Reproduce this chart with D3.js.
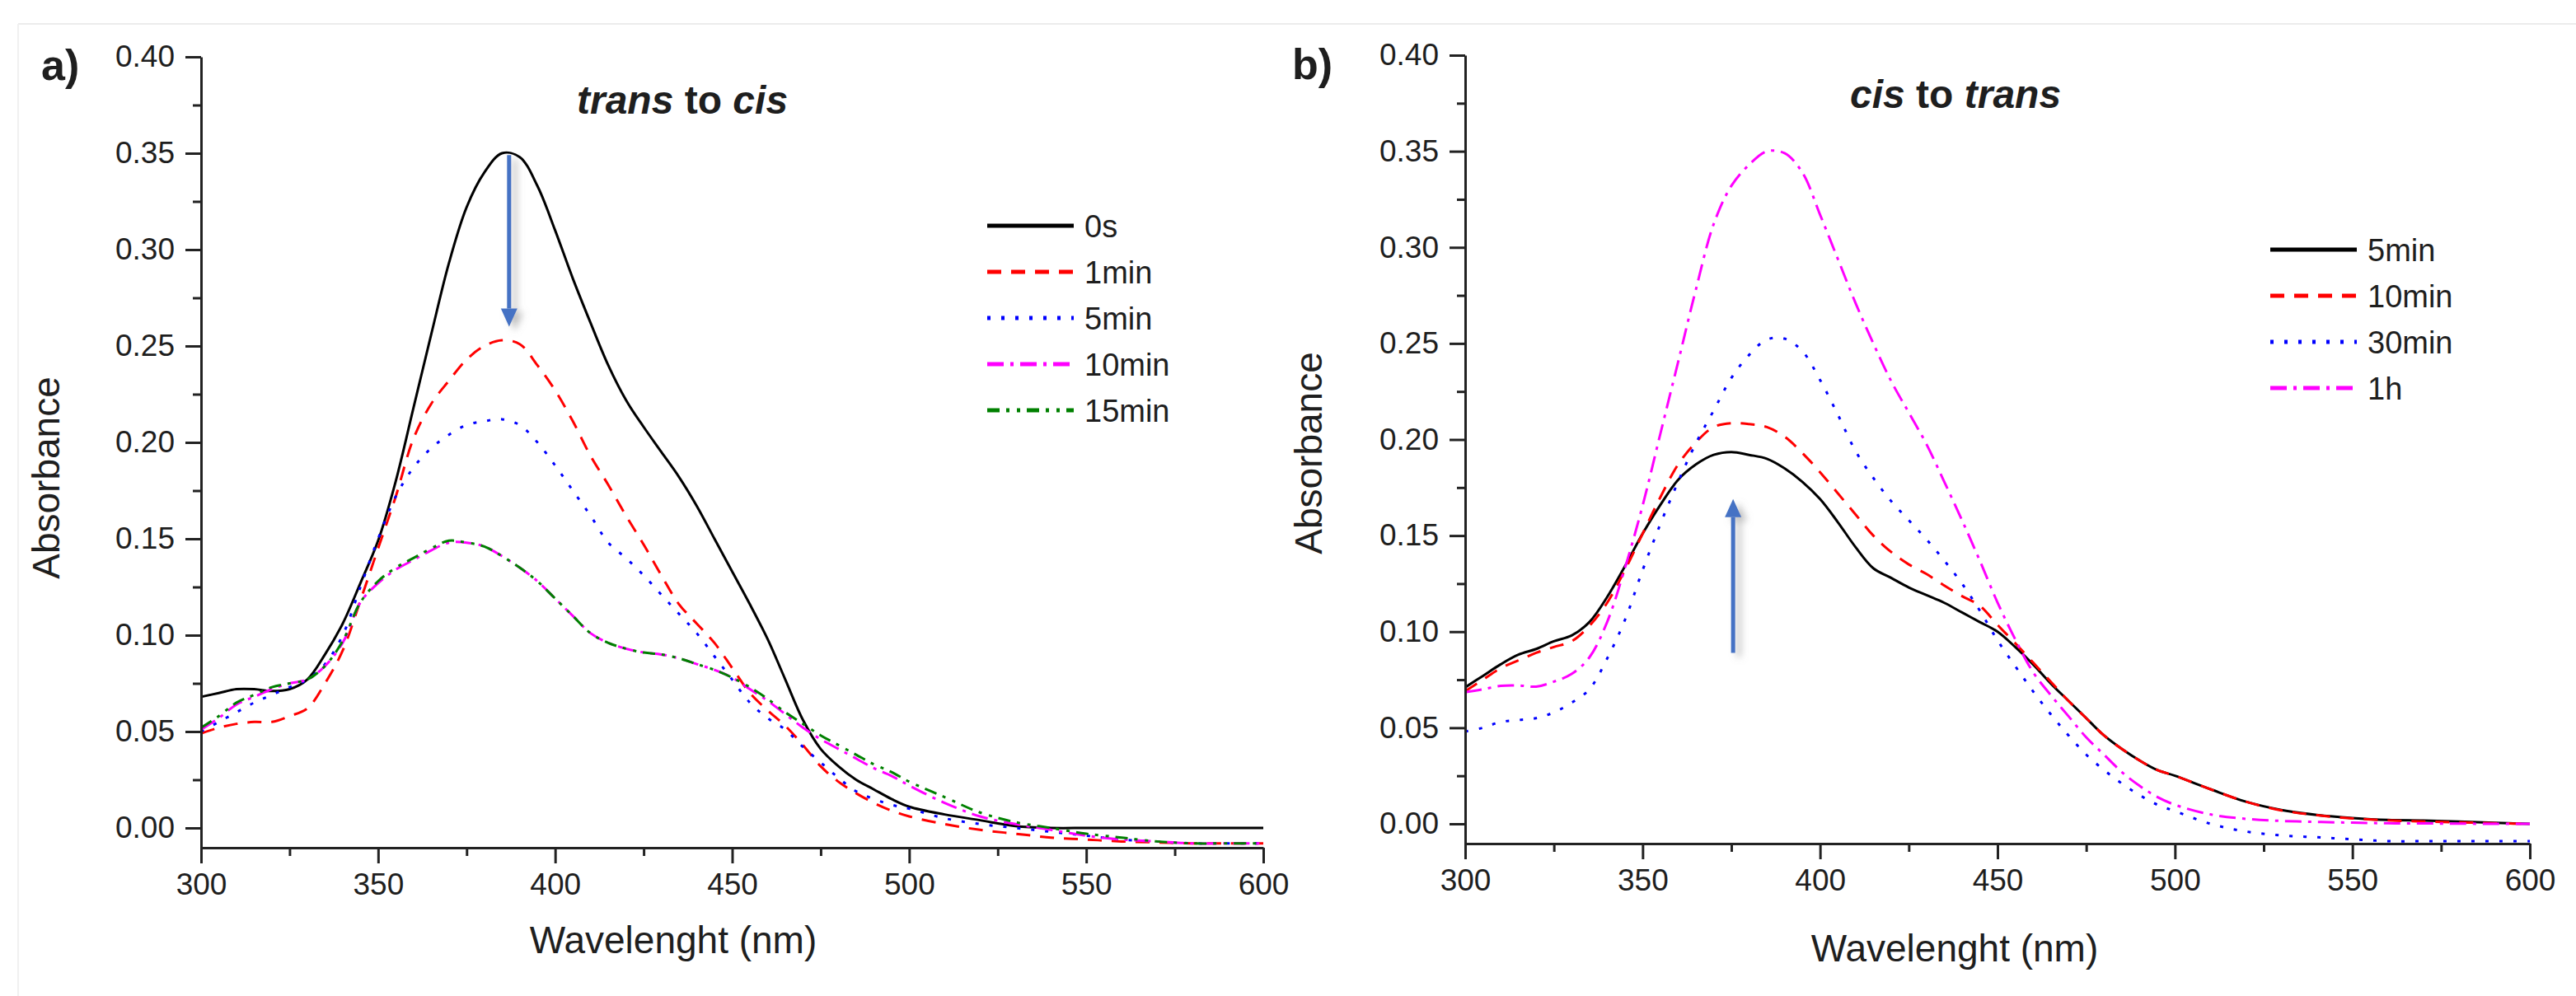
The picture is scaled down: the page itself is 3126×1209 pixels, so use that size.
<!DOCTYPE html>
<html>
<head>
<meta charset="utf-8">
<script src="https://cdnjs.cloudflare.com/ajax/libs/d3/7.8.5/d3.min.js"></script>
<style>
body { margin: 0; background: #fff; }
svg text { font-family: "Liberation Sans", Arial, sans-serif; fill: #1e1e1e; }
.axis path, .axis line { stroke: #222; stroke-width: 3; }
.curve { fill: none; stroke-width: 3; stroke-linejoin: round; }
</style>
</head>
<body>
<svg class="main" width="3126" height="1209"></svg>
<script>
// wavelength grid (nm), shared by every series
var wavelength = [300,305,310,315,320,325,330,335,340,345,350,355,360,365,370,375,380,385,390,395,400,
                  405,410,415,420,425,430,435,440,445,450,455,460,465,470,475,480,485,490,495,500,
                  510,520,530,540,550,560,570,580,590,600];

// panel a) trans to cis
var a_0s    = [0.068,0.070,0.072,0.072,0.071,0.072,0.077,0.090,0.106,0.127,0.149,0.180,0.218,0.256,0.293,0.322,0.340,0.350,0.348,0.333,0.310,
               0.285,0.262,0.240,0.222,0.208,0.195,0.182,0.167,0.150,0.133,0.116,0.098,0.077,0.056,0.041,0.032,0.025,0.020,0.015,0.011,
               0.007,0.004,0.001,0.000,0.000,0.000,0.000,0.000,0.000,0.000];
var a_1min  = [0.049,0.052,0.054,0.055,0.055,0.058,0.062,0.075,0.092,0.118,0.145,0.172,0.202,0.220,0.232,0.243,0.250,0.253,0.251,0.240,0.227,
               0.211,0.193,0.178,0.162,0.147,0.131,0.116,0.106,0.096,0.083,0.070,0.061,0.053,0.043,0.032,0.024,0.018,0.013,0.009,0.006,
               0.002,-0.001,-0.003,-0.005,-0.006,-0.007,-0.0075,-0.008,-0.008,-0.008];
var a_5min  = [0.050,0.055,0.060,0.065,0.069,0.073,0.077,0.085,0.100,0.125,0.150,0.172,0.187,0.197,0.204,0.209,0.211,0.212,0.209,0.200,0.188,
               0.175,0.162,0.148,0.140,0.131,0.121,0.111,0.101,0.089,0.077,0.065,0.057,0.051,0.042,0.034,0.026,0.019,0.015,0.012,0.010,
               0.005,0.002,0.000,-0.002,-0.004,-0.006,-0.007,-0.008,-0.008,-0.008];
var a_10min = [0.051,0.057,0.064,0.068,0.072,0.075,0.077,0.084,0.096,0.117,0.127,0.134,0.139,0.144,0.148,0.148,0.146,0.141,0.135,0.128,0.119,
               0.110,0.101,0.096,0.093,0.091,0.090,0.088,0.085,0.082,0.078,0.072,0.066,0.059,0.052,0.046,0.041,0.036,0.031,0.027,0.022,
               0.013,0.006,0.002,-0.001,-0.004,-0.006,-0.007,-0.008,-0.008,-0.008];
var a_15min = [0.052,0.058,0.065,0.069,0.073,0.075,0.077,0.084,0.097,0.117,0.128,0.135,0.140,0.145,0.149,0.148,0.146,0.141,0.135,0.128,0.119,
               0.110,0.101,0.096,0.093,0.091,0.090,0.088,0.085,0.082,0.078,0.073,0.067,0.060,0.054,0.048,0.043,0.038,0.033,0.029,0.024,
               0.016,0.008,0.003,0.000,-0.003,-0.005,-0.007,-0.008,-0.008,-0.008];

// panel b) cis to trans
var b_5min  = [0.071,0.077,0.083,0.088,0.091,0.095,0.098,0.105,0.118,0.134,0.151,0.166,0.179,0.187,0.192,0.1935,0.192,0.190,0.185,0.178,0.169,
               0.157,0.144,0.133,0.128,0.123,0.119,0.115,0.110,0.105,0.100,0.092,0.083,0.073,0.064,0.055,0.046,0.039,0.033,0.028,0.025,
               0.018,0.0115,0.0072,0.0046,0.003,0.002,0.0017,0.0012,0.0005,0.0];
var b_10min = [0.069,0.075,0.081,0.085,0.089,0.092,0.095,0.103,0.115,0.132,0.151,0.170,0.187,0.1985,0.2065,0.2085,0.208,0.2065,0.2015,0.193,0.183,
               0.172,0.161,0.150,0.1415,0.135,0.130,0.124,0.1185,0.1135,0.1035,0.094,0.084,0.074,0.064,0.055,0.046,0.039,0.033,0.028,0.025,
               0.018,0.0115,0.007,0.0045,0.0028,0.0018,0.0012,0.0008,0.0003,0.0];
var b_30min = [0.048,0.050,0.053,0.054,0.055,0.058,0.063,0.070,0.086,0.106,0.132,0.156,0.178,0.198,0.215,0.232,0.244,0.252,0.2525,0.246,0.231,
               0.213,0.194,0.180,0.168,0.158,0.148,0.137,0.125,0.111,0.0955,0.082,0.069,0.057,0.046,0.036,0.028,0.021,0.015,0.010,0.0066,
               0.0,-0.004,-0.006,-0.007,-0.008,-0.009,-0.009,-0.009,-0.009,-0.009];
var b_1h    = [0.0685,0.070,0.0718,0.072,0.0714,0.074,0.078,0.0866,0.105,0.133,0.1656,0.203,0.2403,0.278,0.312,0.332,0.343,0.350,0.349,0.339,0.317,
               0.294,0.271,0.250,0.2305,0.214,0.1975,0.178,0.158,0.137,0.1152,0.096,0.079,0.067,0.056,0.045,0.036,0.027,0.0198,0.014,0.0099,
               0.0049,0.0026,0.0015,0.001,0.0006,0.0003,0.0002,0.0001,0.0,0.0];

var a_names = ["0s", "1min", "5min", "10min", "15min"];
var b_names = ["5min", "10min", "30min", "1h"];

var xMajor = [300, 350, 400, 450, 500, 550, 600];
var xMinor = [325, 375, 425, 475, 525, 575];
var yMajor = [0.00, 0.05, 0.10, 0.15, 0.20, 0.25, 0.30, 0.35, 0.40];
var yMinor = [0.025, 0.075, 0.125, 0.175, 0.225, 0.275, 0.325, 0.375];

var styles = {
    black:   { color: "#000000", dash: null },
    red:     { color: "#ff0000", dash: "17,12" },
    blue:    { color: "#0000ff", dash: "4,13" },
    magenta: { color: "#ff00ff", dash: "20,8,4,8" },
    green:   { color: "#008000", dash: "15,8,4,9,4,8" }
};

var svg = d3.select("svg.main");

// drop shadow for the arrows
var defs = svg.append("defs");
var f = defs.append("filter").attr("id", "shadow")
    .attr("x", "-200%").attr("y", "-20%").attr("width", "500%").attr("height", "140%");
f.append("feDropShadow").attr("dx", 7).attr("dy", 5).attr("stdDeviation", 4)
    .attr("flood-color", "#888").attr("flood-opacity", 0.55);

// faint frame of the scanned figure
svg.append("line").attr("x1", 22).attr("y1", 29).attr("x2", 3126).attr("y2", 29)
    .attr("stroke", "#ececec").attr("stroke-width", 2);
svg.append("line").attr("x1", 22).attr("y1", 29).attr("x2", 22).attr("y2", 1209)
    .attr("stroke", "#f0f0f0").attr("stroke-width", 2);

drawPanel({
    left: 244, right: 1533, top: 69, zero: 1005, bottom: 1029,
    letter: "a)", letterX: 50, letterY: 97,
    title: [["trans", true], [" to ", false], ["cis", true]], titleX: 700, titleY: 138,
    ylabX: 72, ylabY: 580, xlabX: 817, xlabY: 1157,
    series: [a_0s, a_1min, a_5min, a_10min, a_15min], names: a_names,
    look: ["black", "red", "blue", "magenta", "green"],
    legX: 1198, legY: 274, legStep: 56,
    arrow: { wl: 387, from: 0.349, to: 0.260 }
});

drawPanel({
    left: 1778, right: 3070, top: 67, zero: 1000, bottom: 1024,
    letter: "b)", letterX: 1568, letterY: 96,
    title: [["cis", true], [" to ", false], ["trans", true]], titleX: 2245, titleY: 131,
    ylabX: 1604, ylabY: 550, xlabX: 2372, xlabY: 1167,
    series: [b_5min, b_10min, b_30min, b_1h], names: b_names,
    look: ["black", "red", "blue", "magenta"],
    legX: 2755, legY: 303, legStep: 56,
    arrow: { wl: 375.5, from: 0.089, to: 0.169 }
});

function drawPanel(p) {
    var x = d3.scaleLinear().domain([300, 600]).range([p.left, p.right]);
    var perUnit = (p.zero - p.top) / 0.40;
    var y = d3.scaleLinear().domain([-(p.bottom - p.zero) / perUnit, 0.40]).range([p.bottom, p.top]);

    var g = svg.append("g");

    // curves
    var line = d3.line()
        .x(function (d) { return x(d[0]); })
        .y(function (d) { return y(d[1]); })
        .curve(d3.curveCatmullRom.alpha(0.5));

    for (var i = 0; i < p.series.length; i++) {
        var st = styles[p.look[i]];
        var pts = wavelength.map(function (w, j) { return [w, p.series[i][j]]; });
        g.append("path")
            .attr("class", "curve")
            .attr("d", line(pts))
            .attr("stroke", st.color)
            .attr("stroke-dasharray", st.dash);
    }

    // axes
    g.append("g").attr("class", "axis")
        .attr("transform", "translate(0," + p.bottom + ")")
        .call(d3.axisBottom(x).tickValues(xMinor).tickSize(10).tickFormat(""))
        .select(".domain").remove();
    var xa = g.append("g").attr("class", "axis")
        .attr("transform", "translate(0," + p.bottom + ")")
        .call(d3.axisBottom(x).tickValues(xMajor).tickSize(19).tickSizeOuter(0).tickPadding(12));
    xa.selectAll("text").attr("font-size", 37).attr("fill", "#1e1e1e");

    g.append("g").attr("class", "axis")
        .attr("transform", "translate(" + p.left + ",0)")
        .call(d3.axisLeft(y).tickValues(yMinor).tickSize(10).tickFormat(""))
        .select(".domain").remove();
    var ya = g.append("g").attr("class", "axis")
        .attr("transform", "translate(" + p.left + ",0)")
        .call(d3.axisLeft(y).tickValues(yMajor).tickSize(19).tickSizeOuter(0).tickPadding(13).tickFormat(d3.format(".2f")));
    ya.selectAll("text").attr("font-size", 37).attr("fill", "#1e1e1e");
    g.selectAll(".axis").attr("font-family", null);

    // labels
    g.append("text").attr("x", p.letterX).attr("y", p.letterY)
        .attr("font-size", 52).attr("font-weight", "bold").text(p.letter);

    var t = g.append("text").attr("x", p.titleX).attr("y", p.titleY)
        .attr("font-size", 48).attr("font-weight", "bold");
    p.title.forEach(function (part) {
        t.append("tspan").attr("font-style", part[1] ? "italic" : "normal")
            .attr("xml:space", "preserve").text(part[0]);
    });
    t.attr("style", "white-space: pre");

    g.append("text")
        .attr("transform", "translate(" + p.ylabX + "," + p.ylabY + ") rotate(-90)")
        .attr("text-anchor", "middle").attr("font-size", 46).text("Absorbance");
    g.append("text").attr("x", p.xlabX).attr("y", p.xlabY)
        .attr("text-anchor", "middle").attr("font-size", 46).text("Wavelenght (nm)");

    // legend
    for (var k = 0; k < p.names.length; k++) {
        var s = styles[p.look[k]];
        var ly = p.legY + k * p.legStep;
        g.append("line")
            .attr("x1", p.legX).attr("x2", p.legX + 105)
            .attr("y1", ly).attr("y2", ly)
            .attr("stroke", s.color).attr("stroke-width", 5)
            .attr("stroke-dasharray", s.dash);
        g.append("text").attr("x", p.legX + 118).attr("y", ly + 14)
            .attr("font-size", 38).text(p.names[k]);
    }

    // arrow
    var ax = x(p.arrow.wl);
    var y1 = y(p.arrow.from), y2 = y(p.arrow.to);
    var dir = y2 > y1 ? 1 : -1;
    var head = 22;
    var ag = g.append("g").attr("filter", "url(#shadow)");
    ag.append("line")
        .attr("x1", ax).attr("x2", ax)
        .attr("y1", y1).attr("y2", y2 - dir * head)
        .attr("stroke", "#4472c4").attr("stroke-width", 5);
    ag.append("path")
        .attr("d", "M" + (ax - 10) + "," + (y2 - dir * head) + "L" + (ax + 10) + "," + (y2 - dir * head) + "L" + ax + "," + y2 + "Z")
        .attr("fill", "#4472c4");
}
</script>
</body>
</html>
